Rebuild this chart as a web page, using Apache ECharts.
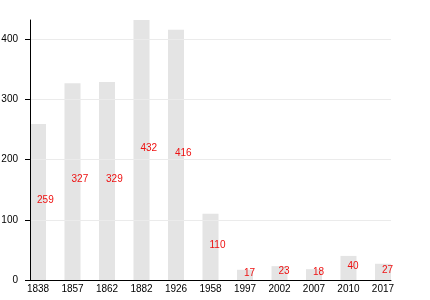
<!DOCTYPE html>
<html><head><meta charset="utf-8">
<script src="https://cdn.jsdelivr.net/npm/echarts@6/dist/echarts.min.js"></script>
<style>html,body{margin:0;padding:0;background:#fff}#c{width:430px;height:300px}</style>
</head><body><div id="c"></div>
<script>
var years = ['1838','1857','1862','1882','1926','1958','1997','2002','2007','2010','2017'];
var population = [259, 327, 329, 432, 416, 110, 17, 23, 18, 40, 27];
var yTicks = [0, 100, 200, 300, 400];

var chart = echarts.init(document.getElementById('c'), null, {renderer: 'canvas'});
var font = 'Liberation Sans, Arial, sans-serif';
chart.setOption({
  animation: false,
  grid: {left: 30, right: 39, top: 20, bottom: 20, containLabel: false, outerBoundsMode: 'none'},
  xAxis: {
    type: 'value', min: -0.232, max: years.length - 1 + 0.232,
    z: 5,
    splitLine: {show: false},
    axisTick: {show: false},
    axisLine: {show: true, onZero: false, lineStyle: {color: '#000', width: 1}},
    axisLabel: {
      customValues: years.map(function(_, i){ return i; }),
      formatter: function(v){ return years[Math.round(v)]; },
      color: '#000', fontSize: 10, fontFamily: font, margin: 4
    }
  },
  yAxis: {
    type: 'value', min: 0, max: 432,
    z: 5,
    axisLine: {show: true, onZero: false, lineStyle: {color: '#000', width: 1}},
    axisTick: {show: true, length: 5, lineStyle: {color: '#000'}, customValues: yTicks},
    splitLine: {show: true, lineStyle: {color: '#ebebeb', width: 1}},
    axisLabel: {customValues: yTicks, color: '#000', fontSize: 10, fontFamily: font, margin: 12}
  },
  series: [{
    type: 'bar',
    barWidth: 16,
    z: 2,
    data: population.map(function(v, i){ return [i, v]; }),
    itemStyle: {color: '#e4e4e4'},
    label: {
      show: true, position: 'inside', align: 'left', verticalAlign: 'middle',
      offset: [-1, -2],
      color: '#ee1111', fontSize: 10, fontFamily: font,
      formatter: function(p){ return p.value[1]; }
    }
  }]
});
</script></body></html>
